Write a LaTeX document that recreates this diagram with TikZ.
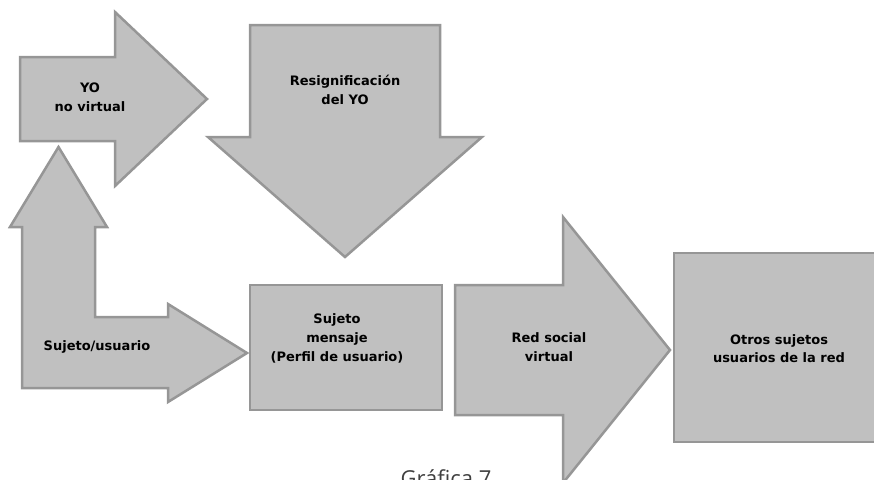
\documentclass[tikz,border=0pt]{standalone}
\usepackage{fontspec}
\setmainfont{DejaVu Sans}
\newfontfamily\captionfont{Open Sans}
\definecolor{shapefill}{RGB}{192,192,192}
\definecolor{shapeline}{RGB}{150,150,150}
\definecolor{captiongray}{RGB}{64,64,64}
\begin{document}
\begin{tikzpicture}[
        x=1pt, y=-1pt,
        block/.style={draw=shapeline, fill=shapefill, line width=2.5pt, line join=miter},
        txt/.style={font=\fontsize{13}{19}\selectfont\bfseries, align=center, inner sep=0pt}
    ]
    
    \useasboundingbox (0,0) rectangle (874,479);
    \clip (0,0) rectangle (874,479);
    
    % YO no virtual
    \draw[block] (20,57) -- (115,57) -- (115,12) -- (207,99) -- (115,186) -- (115,141) -- (20,141) -- cycle;
    \node[txt] (yo) at (90,97) {YO\\no virtual};
    
    % Resignificacion del YO
    \draw[block] (250,25) -- (440,25) -- (440,137) -- (482,137) -- (345,257) -- (208,137) -- (250,137) -- cycle;
    \node[txt] (resig) at (345,90) {Resignificación\\del YO};
    
    % Sujeto/usuario
    \draw[block] (22,388) -- (22,227) -- (10,227) -- (58.5,147) -- (107,227) -- (95,227) -- (95,317)
        -- (168,317) -- (168,304) -- (247,353) -- (168,402) -- (168,388) -- cycle;
    \node[txt] (usuario) at (97,347) {Sujeto/usuario};
    
    % Sujeto mensaje
    \draw[block] (250,285) rectangle (442,410);
    \node[txt] (mensaje) at (337,338) {Sujeto\\mensaje\\(Perfil de usuario)};
    
    % Red social virtual
    \draw[block] (455,285) -- (563,285) -- (563,217) -- (670,350) -- (563,483) -- (563,415) -- (455,415) -- cycle;
    \node[txt] (redsocial) at (549,347) {Red social\\virtual};
    
    % Otros sujetos
    \draw[block] (674,253) rectangle (890,442);
    \node[txt, font=\fontsize{13}{18}\selectfont\bfseries] (otros) at (779,349) {Otros sujetos\\usuarios de la red};
    
    % Caption
    \node[font=\captionfont\fontsize{22}{26}\selectfont, text=captiongray, anchor=base, inner sep=0pt] (grafica) at (446,486) {Gráfica 7};
    
\end{tikzpicture}
\end{document}
